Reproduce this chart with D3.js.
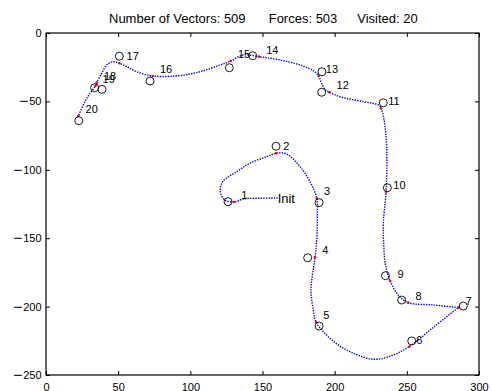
<!DOCTYPE html>
<html><head><meta charset="utf-8">
<script src="https://cdn.jsdelivr.net/npm/d3@7"></script>
<style>
html,body{margin:0;padding:0;background:#fff;}
svg{display:block;}
text{font-family:"Liberation Sans",Arial,Helvetica,sans-serif;fill:#000;}
</style></head>
<body><svg id="c" width="492" height="391"></svg>
<script>
// ---- data ----
const titleParts = ["Number of Vectors: 509", "Forces: 503", "Visited: 20"];
const xTicks = [0, 50, 100, 150, 200, 250, 300];
const yTicks = [0, -50, -100, -150, -200, -250];
const initX = 160.5, initY = -120.6;
// trajectory, part 1: Init -> turning point at target 7
const path1X = [160.5,148,136.7,130.3,124.0,120.8,122.4,132.1,141.3,152.9,159.4,166.8,176.0,182.9,187.6,188.0,187.6,186.4,183.6,185.2,187.1,196.8,208.3,226.8,240.6,251.6,268,285.7];
const path1Y = [-120.6,-120.8,-121.3,-123.5,-122.1,-116.2,-108.7,-101.4,-95.2,-90.4,-87.9,-88.5,-97.7,-108.7,-120.8,-131.8,-151.3,-164.0,-187.9,-202.5,-211.3,-223.2,-231.7,-238.5,-235.4,-229.3,-215.5,-200.7];
// trajectory, part 2: turning point -> target 20
const path2X = [285.7,268.3,251.0,244.0,238.5,235.2,234.0,233.7,235.6,236.0,234.2,232.1,230.2,219.9,203.7,196.3,193.3,191.0,188.9,185.2,176.0,162.1,147.6,136.7,128.0,120.6,106.7,90.6,73.9,62.8,55.9,50.8,46.6,42.0,38.6,35.1,34.2,30.5,27.0,22.4];
const path2Y = [-200.7,-198.8,-197.1,-191.5,-181.3,-169.6,-155.0,-139.1,-116.0,-83.1,-63.6,-55.0,-52.6,-50.2,-46.6,-43.3,-41.2,-36.8,-31.4,-27.6,-23.4,-19.7,-17.3,-16.1,-20.5,-23.4,-28.3,-31.4,-31.4,-28.3,-24.6,-22.1,-21.0,-23.4,-29.5,-36.3,-38.7,-44.1,-50.2,-60.7];
// targets (circles)
const targetX = [126.1,159.4,189.2,181.3,189.2,253.4,289.1,246.4,235.2,236.5,233.7,191.0,191.2,143.2,127.0,72.1,50.8,33.7,38.8,22.7];
const targetY = [-123.3,-82.8,-124.0,-164.3,-214.2,-225.1,-199.6,-195.2,-177.4,-113.1,-51.0,-43.3,-28.3,-16.6,-25.4,-35.1,-17.0,-40.0,-41.2,-64.1];
// points of the trajectory where each target was visited (red)
const visitX = [130.3,159.4,187.6,186.4,187.1,251.6,285.7,251.0,238.5,235.6,232.1,196.3,188.9,147.6,128.0,73.9,50.8,35.1,34.2,22.4];
const visitY = [-123.5,-87.9,-120.8,-164.0,-211.3,-229.3,-200.7,-197.1,-181.3,-116.0,-55.0,-43.3,-31.4,-17.3,-20.5,-31.4,-22.1,-36.3,-38.7,-60.7];
const visitLabels = ["1","2","3","4","5","6","7","8","9","10","11","12","13","14","15","16","17","18","19","20"];
const labelOffset = 5; // data units

// ---- chart ----
const svg = d3.select("#c");
const L = 46, R = 479, T = 33, B = 375;
const x = d3.scaleLinear().domain([0, 300]).range([L, R]);
const y = d3.scaleLinear().domain([-250, 0]).range([B, T]);

// title
const titleX = [109, 268.7, 357.3];
svg.selectAll("text.title").data(titleParts).join("text")
  .attr("class","title").attr("x",(d,i)=>titleX[i]).attr("y",23.3)
  .attr("font-size","13px").text(d=>d);

const fmtY = d => d < 0 ? String(-d) : String(d);

// axes
const gB = svg.append("g").attr("transform",`translate(0,${B})`)
  .call(d3.axisBottom(x).tickValues(xTicks).tickSizeInner(-4).tickSizeOuter(0).tickPadding(8).tickFormat(d3.format("d")));
const gT = svg.append("g").attr("transform",`translate(0,${T})`)
  .call(d3.axisTop(x).tickValues(xTicks).tickSizeInner(-4).tickSizeOuter(0).tickFormat(""));
const gL = svg.append("g").attr("transform",`translate(${L},0)`)
  .call(d3.axisLeft(y).tickValues(yTicks).tickSizeInner(-4).tickSizeOuter(0).tickPadding(4.5).tickFormat(""));
const gR = svg.append("g").attr("transform",`translate(${R},0)`)
  .call(d3.axisRight(y).tickValues(yTicks).tickSizeInner(-4).tickSizeOuter(0).tickFormat(""));
[gB,gT,gL,gR].forEach(g=>{
  g.select(".domain").remove();
  g.selectAll(".tick line").attr("stroke","#000").attr("stroke-width",1);
  g.selectAll("text").attr("font-family",null);
});
gB.selectAll(".tick text").attr("font-size","11px").attr("fill","#000");

// y tick labels with wide minus
gL.selectAll(".tick").each(function(d){
  const t = d3.select(this).select("text").attr("font-size","11px").attr("fill","#000").text(null);
  if (d < 0) t.append("tspan").attr("font-family","DejaVu Sans").attr("font-size","12.5px").text("\u2212");
  t.append("tspan").text(fmtY(d));
});

// box
svg.append("rect").attr("x",L).attr("y",T).attr("width",R-L).attr("height",B-T)
  .attr("fill","none").attr("stroke","#000").attr("stroke-width",1.2);

// trajectory
const line = d3.line().x(d=>x(d[0])).y(d=>y(d[1])).curve(d3.curveCatmullRom.alpha(0.5));
[[path1X,path1Y],[path2X,path2Y]].forEach(([px,py])=>{
  svg.append("path").attr("d", line(px.map((v,i)=>[v,py[i]])))
    .attr("fill","none").attr("stroke","#0000ff").attr("stroke-width",1.4)
    .attr("stroke-dasharray","1.4 1.2");
});

// visited points (red)
svg.selectAll("circle.visit").data(visitX).join("circle").attr("class","visit")
  .attr("cx",d=>x(d)).attr("cy",(d,i)=>y(visitY[i])).attr("r",1.3).attr("fill","#ff0000");

// targets
svg.selectAll("circle.target").data(targetX).join("circle").attr("class","target")
  .attr("cx",d=>x(d)).attr("cy",(d,i)=>y(targetY[i])).attr("r",4)
  .attr("fill","none").attr("stroke","#000").attr("stroke-width",0.9);

// labels
svg.selectAll("text.lab").data(visitLabels).join("text").attr("class","lab")
  .attr("x",(d,i)=>x(visitX[i]+labelOffset)).attr("y",(d,i)=>y(visitY[i]+labelOffset))
  .attr("dy","0.35em").attr("font-size","11px").text(d=>d);

svg.append("text").attr("x",x(initX)).attr("y",y(initY)).attr("dy","0.35em")
  .attr("font-size","13px").text("Init");
</script></body></html>
